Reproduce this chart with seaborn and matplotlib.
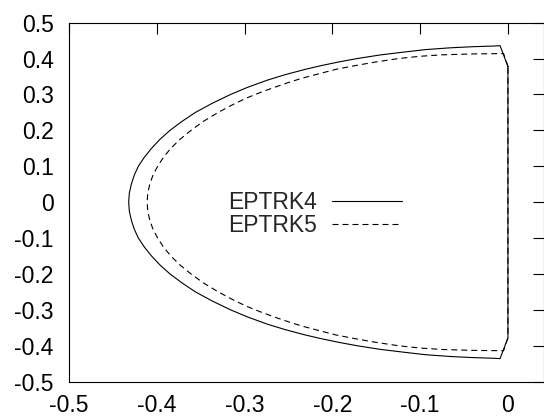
import matplotlib
matplotlib.use("Agg")
import matplotlib.pyplot as plt
import seaborn as sns
import pandas as pd

# Stability region boundaries (real part, imaginary part)
eptrk4_x = [0.0, -0.009, -0.016, -0.041, -0.066, -0.094, -0.119, -0.146, -0.172, -0.194,
            -0.2135, -0.231, -0.254, -0.274, -0.2965, -0.316, -0.3372, -0.356, -0.3713,
            -0.385, -0.3964, -0.406, -0.4142, -0.421, -0.4257, -0.429, -0.4313, -0.432,
            -0.4313, -0.429, -0.4257, -0.421, -0.4142, -0.406, -0.3964, -0.385, -0.3713,
            -0.356, -0.3372, -0.316, -0.2965, -0.274, -0.254, -0.231, -0.2135, -0.194,
            -0.172, -0.146, -0.119, -0.094, -0.066, -0.041, -0.016, -0.009, 0.0, 0.0]
eptrk4_y = [0.378, 0.436, 0.435, 0.433, 0.430, 0.425, 0.418, 0.41, 0.40, 0.39,
            0.38, 0.37, 0.355, 0.34, 0.32, 0.30, 0.275, 0.25, 0.225,
            0.20, 0.175, 0.15, 0.125, 0.10, 0.075, 0.05, 0.025, 0.0,
            -0.025, -0.05, -0.075, -0.10, -0.125, -0.15, -0.175, -0.20, -0.225,
            -0.25, -0.275, -0.30, -0.32, -0.34, -0.355, -0.37, -0.38, -0.39,
            -0.40, -0.41, -0.418, -0.425, -0.430, -0.433, -0.435, -0.436, -0.378, 0.378]

eptrk5_x = [0.0, -0.005, -0.04, -0.075, -0.10, -0.125, -0.152, -0.175, -0.196, -0.2149,
            -0.235, -0.2505, -0.266, -0.2826, -0.298, -0.3148, -0.330, -0.3470, -0.361,
            -0.3736, -0.384, -0.3924, -0.399, -0.4044, -0.408, -0.4103, -0.411,
            -0.4103, -0.408, -0.4044, -0.399, -0.3924, -0.384, -0.3736, -0.361, -0.3470,
            -0.330, -0.3148, -0.298, -0.2826, -0.266, -0.2505, -0.235, -0.2149, -0.196,
            -0.175, -0.152, -0.125, -0.10, -0.075, -0.04, -0.005, 0.0, 0.0]
eptrk5_y = [0.378, 0.414, 0.413, 0.4105, 0.4065, 0.40, 0.39, 0.38, 0.37, 0.358,
            0.345, 0.333, 0.32, 0.305, 0.29, 0.27, 0.25, 0.225, 0.20,
            0.175, 0.15, 0.125, 0.10, 0.075, 0.05, 0.025, 0.0,
            -0.025, -0.05, -0.075, -0.10, -0.125, -0.15, -0.175, -0.20, -0.225,
            -0.25, -0.27, -0.29, -0.305, -0.32, -0.333, -0.345, -0.358, -0.37,
            -0.38, -0.39, -0.40, -0.4065, -0.4105, -0.413, -0.414, -0.378, 0.378]

series_labels = ["EPTRK4", "EPTRK5"]
x_ticks = [-0.5, -0.4, -0.3, -0.2, -0.1, 0]
y_ticks = [-0.5, -0.4, -0.3, -0.2, -0.1, 0, 0.1, 0.2, 0.3, 0.4, 0.5]

sns.set_theme(style="white")
plt.rcParams["font.family"] = ["Liberation Sans", "DejaVu Sans"]
plt.rcParams["lines.scale_dashes"] = False
plt.rcParams["axes.unicode_minus"] = False

fig = plt.figure(figsize=(5.44, 4.16), dpi=100)
ax = fig.add_axes([69 / 544, 34.4 / 416, 474.5 / 544, 358.9 / 416])

df4 = pd.DataFrame({"x": eptrk4_x, "y": eptrk4_y})
df5 = pd.DataFrame({"x": eptrk5_x, "y": eptrk5_y})

sns.lineplot(data=df4, x="x", y="y", sort=False, estimator=None, ax=ax,
             color="black", linewidth=0.8, label=series_labels[0])
sns.lineplot(data=df5, x="x", y="y", sort=False, estimator=None, ax=ax,
             color="black", linewidth=0.8, linestyle=(0, (4.3, 2.9)),
             label=series_labels[1])

ax.set_xlim(-0.5, 0.0405)
ax.set_ylim(-0.5, 0.5)
ax.set_xticks(x_ticks)
ax.set_xticklabels([f"{v:g}" for v in x_ticks])
ax.set_yticks(y_ticks)
ax.set_yticklabels([f"{v:g}" for v in y_ticks])
ax.set_xlabel("")
ax.set_ylabel("")

for s in ax.spines.values():
    s.set_color("black")
    s.set_linewidth(0.8)

fs = 16.5
ax.tick_params(axis="both", direction="in", length=8, width=0.8, color="black",
               labelsize=fs, labelcolor="black", top=True, right=True)
ax.tick_params(axis="x", pad=9)
ax.tick_params(axis="y", pad=11)

leg = ax.legend(loc="upper right", bbox_to_anchor=(0.702, 0.532), frameon=False,
                markerfirst=False, fontsize=fs, handlelength=3.05, handletextpad=0.66,
                labelspacing=0.0, borderpad=0, borderaxespad=0)

fig.savefig("out.png", dpi=100)
